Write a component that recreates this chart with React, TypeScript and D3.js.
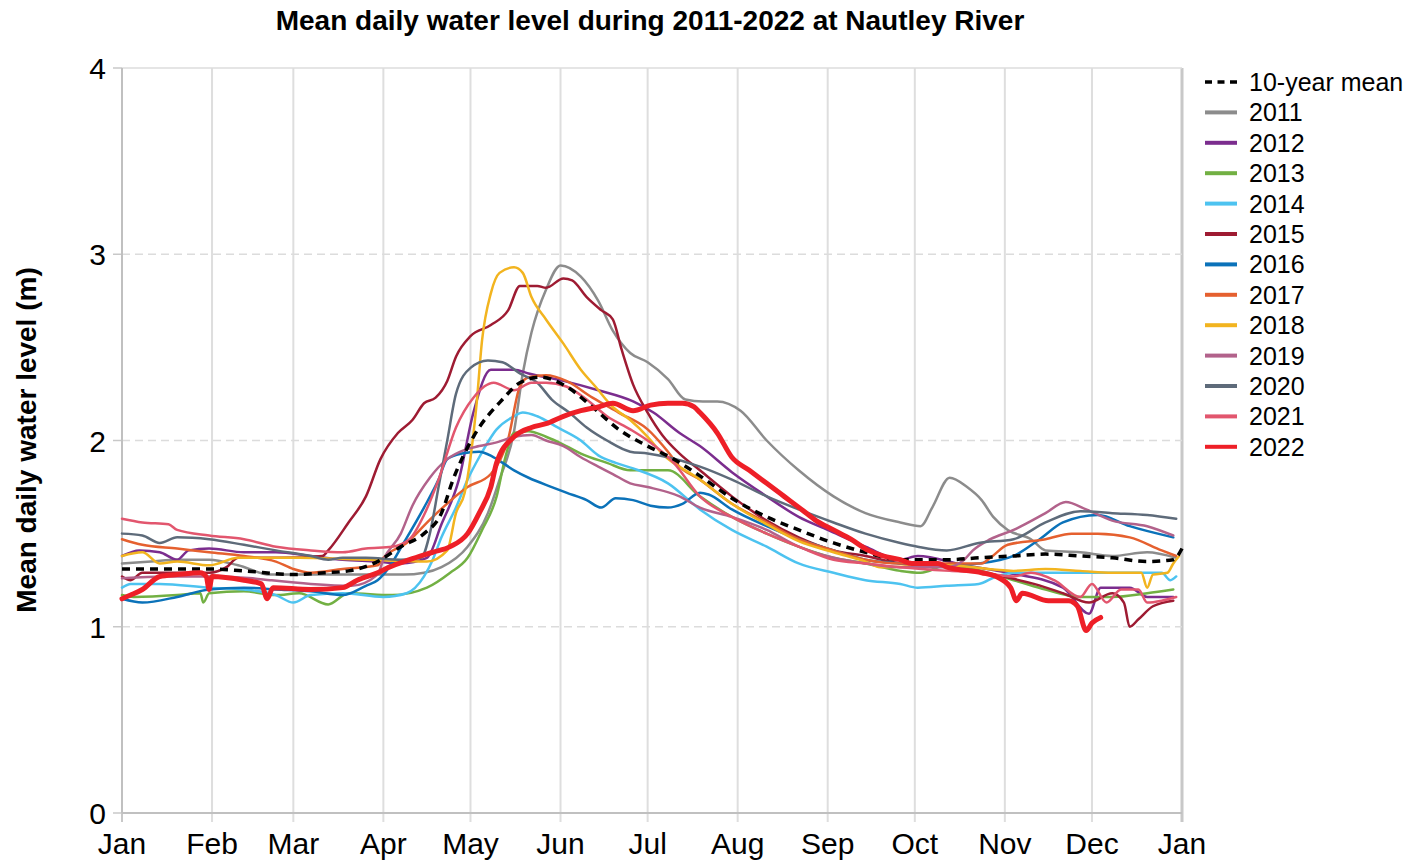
import React, { useEffect } from 'react';
import * as d3 from 'd3';

// day-of-year (0 = Jan 1) / water level (m)
const monthStarts = [0, 31, 59, 90, 120, 151, 181, 212, 243, 273, 304, 334, 365];
const monthLabels = ['Jan', 'Feb', 'Mar', 'Apr', 'May', 'Jun', 'Jul', 'Aug', 'Sep', 'Oct', 'Nov', 'Dec', 'Jan'];
const yTicks = [0, 1, 2, 3, 4];

const mean10: [number, number][] = [[0,1.31],[15,1.31],[31,1.31],[42,1.30],[59,1.28],[70,1.29],[78,1.30],[88,1.35],[96,1.43],[104,1.50],[110,1.61],[114,1.79],[121,2.02],[131,2.22],[137,2.31],[144,2.34],[153,2.29],[162,2.18],[171,2.06],[181,1.97],[190,1.90],[199,1.81],[210,1.69],[222,1.59],[233,1.52],[245,1.45],[256,1.40],[268,1.36],[284,1.36],[295,1.37],[307,1.38],[318,1.39],[330,1.38],[341,1.37],[353,1.35],[362,1.36],[365,1.42]];
const y2011: [number, number][] = [[0,1.34],[10,1.35],[19,1.36],[30,1.36],[40,1.33],[51,1.28],[65,1.28],[76,1.28],[90,1.28],[97,1.28],[104,1.29],[110,1.32],[119,1.43],[126,1.61],[130,1.79],[135,2.05],[138,2.36],[141,2.58],[146,2.81],[151,2.94],[158,2.88],[164,2.75],[169,2.59],[175,2.47],[181,2.42],[188,2.33],[194,2.22],[200,2.21],[205,2.21],[213,2.16],[222,2.0],[233,1.84],[245,1.70],[256,1.61],[268,1.56],[275,1.54],[279,1.64],[285,1.80],[291,1.75],[296,1.68],[300,1.59],[305,1.52],[313,1.47],[318,1.41],[330,1.40],[341,1.38],[353,1.40],[363,1.37]];
const y2012: [number, number][] = [[0,1.38],[6,1.41],[13,1.40],[19,1.36],[23,1.41],[30,1.42],[42,1.40],[53,1.40],[65,1.38],[76,1.36],[88,1.35],[96,1.34],[105,1.37],[110,1.55],[116,1.79],[121,2.15],[127,2.38],[135,2.38],[140,2.36],[152,2.32],[164,2.27],[176,2.21],[183,2.15],[192,2.04],[199,1.97],[210,1.83],[222,1.70],[233,1.59],[243,1.52],[256,1.43],[268,1.36],[274,1.38],[290,1.33],[305,1.29],[324,1.21],[333,1.07],[337,1.21],[347,1.21],[353,1.16],[362,1.16]];
const y2013: [number, number][] = [[0,1.17],[4,1.16],[19,1.17],[27,1.18],[28,1.13],[30,1.18],[42,1.19],[53,1.17],[61,1.18],[71,1.12],[78,1.18],[93,1.17],[105,1.21],[113,1.29],[119,1.37],[124,1.52],[129,1.70],[132,1.91],[135,2.04],[140,2.05],[146,2.02],[153,1.97],[158,1.93],[167,1.88],[175,1.84],[181,1.84],[188,1.84],[199,1.70],[210,1.59],[222,1.50],[233,1.43],[245,1.37],[256,1.34],[268,1.30],[275,1.29],[284,1.33],[307,1.25],[318,1.20],[330,1.16],[341,1.16],[353,1.18],[362,1.20]];
const y2014: [number, number][] = [[0,1.21],[3,1.23],[13,1.23],[30,1.21],[42,1.20],[53,1.17],[59,1.13],[65,1.17],[76,1.18],[90,1.16],[98,1.18],[104,1.27],[107,1.36],[110,1.48],[115,1.64],[119,1.79],[123,1.91],[129,2.06],[135,2.13],[138,2.15],[143,2.13],[150,2.07],[158,2.00],[164,1.92],[170,1.88],[176,1.85],[188,1.77],[199,1.63],[210,1.52],[222,1.43],[233,1.34],[245,1.29],[256,1.25],[268,1.23],[274,1.21],[284,1.22],[295,1.23],[301,1.27],[307,1.29],[330,1.29],[341,1.29],[358,1.29],[361,1.25],[363,1.27]];
const y2015: [number, number][] = [[0,1.27],[3,1.25],[7,1.29],[30,1.29],[36,1.32],[40,1.37],[55,1.37],[69,1.38],[71,1.41],[78,1.56],[84,1.70],[89,1.90],[95,2.04],[100,2.11],[104,2.20],[108,2.23],[112,2.32],[115,2.45],[120,2.56],[127,2.62],[133,2.70],[137,2.83],[143,2.83],[146,2.82],[152,2.87],[155,2.86],[160,2.77],[165,2.70],[169,2.65],[172,2.49],[176,2.30],[181,2.15],[186,2.03],[192,1.93],[199,1.84],[210,1.70],[222,1.57],[233,1.48],[245,1.41],[256,1.38],[268,1.34],[285,1.32],[300,1.28],[314,1.23],[324,1.18],[333,1.13],[341,1.18],[345,1.13],[347,1.0],[350,1.04],[355,1.11],[362,1.14]];
const y2016: [number, number][] = [[0,1.15],[7,1.13],[19,1.16],[30,1.20],[42,1.21],[53,1.20],[65,1.19],[76,1.17],[84,1.22],[88,1.25],[92,1.32],[97,1.45],[104,1.64],[109,1.79],[112,1.90],[117,1.93],[123,1.94],[128,1.91],[135,1.84],[140,1.80],[148,1.75],[153,1.72],[160,1.68],[165,1.64],[170,1.69],[176,1.68],[182,1.65],[188,1.64],[193,1.66],[199,1.72],[202,1.71],[210,1.63],[222,1.54],[233,1.47],[245,1.41],[256,1.36],[268,1.34],[284,1.33],[295,1.34],[307,1.38],[316,1.47],[324,1.56],[336,1.60],[347,1.54],[362,1.48]];
const y2017: [number, number][] = [[0,1.47],[7,1.44],[19,1.42],[30,1.40],[42,1.38],[53,1.35],[59,1.31],[65,1.29],[76,1.31],[88,1.33],[90,1.37],[98,1.45],[107,1.59],[119,1.75],[127,1.82],[133,2.01],[137,2.29],[140,2.34],[146,2.35],[153,2.32],[162,2.23],[171,2.15],[181,2.06],[188,1.94],[192,1.86],[199,1.79],[210,1.66],[222,1.56],[233,1.47],[245,1.41],[256,1.36],[268,1.34],[290,1.34],[296,1.34],[299,1.37],[305,1.44],[318,1.47],[327,1.50],[336,1.50],[347,1.48],[358,1.41],[363,1.38]];
const y2018: [number, number][] = [[0,1.38],[7,1.40],[13,1.34],[19,1.35],[30,1.33],[40,1.37],[49,1.37],[61,1.37],[84,1.36],[105,1.35],[112,1.41],[115,1.61],[118,1.72],[122,2.18],[124,2.54],[127,2.79],[130,2.90],[135,2.93],[138,2.90],[141,2.77],[146,2.65],[152,2.52],[158,2.38],[163,2.29],[169,2.18],[175,2.11],[181,2.02],[186,1.93],[199,1.79],[210,1.66],[222,1.55],[233,1.46],[245,1.40],[256,1.35],[261,1.32],[284,1.33],[307,1.30],[318,1.31],[330,1.30],[341,1.29],[351,1.29],[353,1.21],[355,1.28],[360,1.29],[362,1.34],[364,1.38]];
const y2019: [number, number][] = [[0,1.26],[15,1.27],[31,1.27],[45,1.26],[51,1.25],[65,1.23],[79,1.22],[88,1.28],[90,1.36],[96,1.50],[100,1.65],[106,1.80],[112,1.90],[118,1.95],[123,1.97],[129,1.99],[135,2.02],[141,2.03],[146,2.00],[152,1.97],[158,1.91],[164,1.86],[169,1.82],[175,1.77],[181,1.75],[192,1.70],[199,1.64],[210,1.59],[222,1.52],[233,1.43],[245,1.37],[256,1.34],[268,1.32],[284,1.32],[290,1.36],[293,1.41],[299,1.47],[307,1.52],[318,1.61],[325,1.67],[332,1.63],[341,1.57],[353,1.54],[362,1.49]];
const y2020: [number, number][] = [[0,1.50],[7,1.49],[13,1.45],[19,1.48],[30,1.47],[42,1.44],[53,1.41],[65,1.38],[71,1.36],[76,1.37],[84,1.37],[96,1.36],[103,1.37],[106,1.50],[109,1.75],[112,2.0],[115,2.25],[120,2.39],[126,2.43],[131,2.42],[137,2.36],[143,2.31],[148,2.22],[154,2.15],[160,2.07],[167,2.0],[175,1.94],[181,1.93],[188,1.91],[199,1.86],[210,1.79],[222,1.70],[233,1.63],[245,1.56],[256,1.50],[268,1.45],[274,1.43],[284,1.41],[295,1.45],[307,1.47],[318,1.56],[330,1.62],[341,1.61],[353,1.60],[363,1.58]];
const y2021: [number, number][] = [[0,1.58],[7,1.56],[16,1.55],[19,1.52],[30,1.49],[42,1.47],[53,1.43],[65,1.41],[76,1.40],[84,1.42],[93,1.43],[99,1.47],[104,1.60],[109,1.79],[115,2.07],[121,2.23],[128,2.31],[135,2.27],[141,2.31],[146,2.31],[153,2.29],[160,2.22],[167,2.13],[175,2.06],[181,2.0],[190,1.88],[199,1.70],[210,1.59],[222,1.50],[233,1.43],[245,1.36],[256,1.34],[268,1.32],[285,1.30],[296,1.29],[307,1.27],[313,1.29],[321,1.25],[330,1.16],[334,1.23],[339,1.13],[344,1.20],[350,1.20],[353,1.13],[358,1.14],[363,1.16]];
const y2022: [number, number][] = [[0,1.15],[3,1.17],[7,1.20],[13,1.27],[19,1.28],[27,1.29],[29,1.27],[30,1.20],[31,1.27],[42,1.25],[48,1.23],[50,1.15],[52,1.21],[65,1.20],[76,1.21],[81,1.25],[88,1.29],[92,1.32],[99,1.36],[107,1.40],[113,1.43],[119,1.50],[123,1.61],[127,1.75],[129,1.88],[135,2.02],[141,2.07],[146,2.09],[152,2.13],[158,2.16],[164,2.18],[169,2.20],[176,2.16],[182,2.19],[188,2.20],[193,2.20],[197,2.18],[199,2.15],[205,2.04],[210,1.91],[216,1.84],[222,1.77],[228,1.70],[234,1.63],[239,1.57],[245,1.52],[251,1.47],[257,1.41],[262,1.38],[268,1.36],[272,1.34],[281,1.34],[284,1.32],[296,1.29],[301,1.27],[306,1.21],[308,1.14],[310,1.18],[319,1.14],[326,1.14],[329,1.11],[332,0.98],[334,1.02],[337,1.05]];

const seriesNames = ['10-year mean', '2011', '2012', '2013', '2014', '2015', '2016', '2017', '2018', '2019', '2020', '2021', '2022'];
const seriesData = [mean10, y2011, y2012, y2013, y2014, y2015, y2016, y2017, y2018, y2019, y2020, y2021, y2022];
const seriesColors = ['#000000', '#8c8c8c', '#7b2d8e', '#72b043', '#4dc3f0', '#9e1b32', '#0b72b9', '#e5602f', '#f2b41f', '#b2628b', '#5e6b7a', '#e2566e', '#ee1f27'];

export default function App() {
  useEffect(() => {
    document.body.style.margin = '0';
  }, []);

  const width = 1412;
  const height = 861;
  const x = d3.scaleLinear().domain([0, 365]).range([122, 1182]);
  const y = d3.scaleLinear().domain([0, 4]).range([813, 68]);
  const line = d3.line<[number, number]>()
    .x(d => x(d[0]))
    .y(d => y(d[1]))
    .curve(d3.curveMonotoneX);

  const font = 'Liberation Sans, Arial, sans-serif';
  // years first, then mean, 2022 on top
  const drawOrder = [1, 2, 3, 4, 5, 6, 7, 8, 9, 10, 11, 0, 12];

  return (
    <svg width={width} height={height} style={{ display: 'block', background: '#fff' }} fontFamily={font}>
      <text x={650} y={30} textAnchor="middle" fontSize={28} fontWeight="bold">
        Mean daily water level during 2011-2022 at Nautley River
      </text>

      {/* grid */}
      {monthStarts.map((m, i) => (
        <line key={'vg' + i} x1={x(m)} x2={x(m)} y1={y(4)} y2={y(0) + 9}
          stroke={i === 0 || i === monthStarts.length - 1 ? '#c8c8c8' : '#dedede'} strokeWidth={i === monthStarts.length - 1 ? 3 : 2} />
      ))}
      {yTicks.map(t => (
        <g key={'hg' + t}>
          {t > 0 && (
            <line x1={x(0)} x2={x(365)} y1={y(t)} y2={y(t)} stroke="#dcdcdc" strokeWidth={1.5}
              strokeDasharray={t === 4 ? undefined : '8,5'} />
          )}
          <line x1={x(0) - 9} x2={x(0)} y1={y(t)} y2={y(t)} stroke="#c8c8c8" strokeWidth={1.5} />
          <text x={106} y={y(t) + 11} textAnchor="end" fontSize={30}>{t}</text>
        </g>
      ))}
      <line x1={x(0)} x2={x(365)} y1={y(0)} y2={y(0)} stroke="#c0c0c0" strokeWidth={2} />
      <line x1={x(0)} x2={x(0)} y1={y(4)} y2={y(0)} stroke="#c0c0c0" strokeWidth={2} />
      {monthStarts.map((m, i) => (
        <text key={'ml' + i} x={x(m)} y={854} textAnchor="middle" fontSize={30}>{monthLabels[i]}</text>
      ))}

      <text transform="translate(36,440) rotate(-90)" textAnchor="middle" fontSize={28} fontWeight="bold">
        Mean daily water level (m)
      </text>

      {/* series */}
      {drawOrder.map(i => (
        <path key={'s' + i} d={line(seriesData[i]) || ''} fill="none" stroke={seriesColors[i]}
          strokeWidth={i === 0 ? 3.5 : i === 12 ? 5 : 2.5}
          strokeDasharray={i === 0 ? '8,6' : undefined} strokeLinejoin="round" strokeLinecap={i === 0 ? 'butt' : 'round'} />
      ))}

      {/* legend */}
      {seriesNames.map((name, i) => {
        const ly = 82 + i * 30.4;
        return (
          <g key={'lg' + i}>
            <line x1={1205} x2={1237} y1={ly} y2={ly} stroke={seriesColors[i]}
              strokeWidth={i === 0 ? 3.5 : 4} strokeDasharray={i === 0 ? '7,5.5' : undefined} />
            <text x={1249} y={ly + 9} fontSize={25}>{name}</text>
          </g>
        );
      })}
    </svg>
  );
}
